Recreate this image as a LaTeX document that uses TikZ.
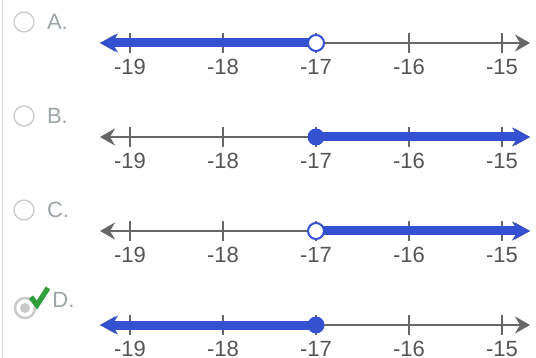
\documentclass[tikz,border=0pt]{standalone}
\usepackage{fontspec}
\setmainfont{Liberation Sans}
\usepackage{xcolor}
\usetikzlibrary{arrows.meta,positioning}
\definecolor{rayblue}{HTML}{3451D1}
\definecolor{axisgray}{HTML}{666666}
\definecolor{numgray}{HTML}{555555}
\definecolor{lettergray}{HTML}{9CA5A7}
\definecolor{radiogray}{HTML}{C9C9C9}
\definecolor{edgegray}{HTML}{D6D6D6}
\definecolor{checkgreen}{HTML}{2E9F3A}
\tikzset{
  axisline/.style={axisgray, line width=1pt, {Stealth[length=7.5pt,width=8.5pt,inset=2.5pt]}-{Stealth[length=7.5pt,width=8.5pt,inset=2.5pt]}},
  tickline/.style={axisgray, line width=0.8pt},
  ticklabel/.style={text=numgray, inner sep=0pt, font=\fontsize{11}{13}\selectfont},
  rayline/.style={rayblue, line width=4.5pt},
  rayleft/.style={{Stealth[length=9pt,width=9.5pt,inset=3pt]}-},
  rayright/.style={-{Stealth[length=9pt,width=9.5pt,inset=3pt]}},
  opendot/.style={circle, draw=rayblue, fill=white, line width=1pt, minimum size=8pt, inner sep=0pt},
  fulldot/.style={circle, fill=rayblue, minimum size=8.5pt, inner sep=0pt},
  radio/.style={circle, draw=radiogray, line width=0.6pt, minimum size=10pt, inner sep=0pt},
  letter/.style={text=lettergray, inner sep=0pt, font=\fontsize{11}{13}\selectfont},
  edgeline/.style={edgegray, line width=0.8pt}
}

\begin{document}
\begin{tikzpicture}[x=0.5pt, y=-0.5pt]
  \useasboundingbox (0,0) rectangle (536,358);
  \draw[edgeline] (2.5,0) -- (2.5,358);
  % number lines
  \foreach \row/\yy in {A/43,B/137,C/231,D/325}{
    \coordinate (\row-w) at (100,\yy);
    \coordinate (\row-e) at (530,\yy);
    \draw[axisline] (\row-w) -- (\row-e);
    \foreach \n [count=\i] in {-19,-18,-17,-16,-15}{
      \coordinate (\row-t\i) at ({130+93*(\i-1)},\yy);
      \draw[tickline] (\row-t\i) ++(0,-10) -- ++(0,20);
      \node[ticklabel, below=8pt of \row-t\i] (\row-l\i) {\n};
    }
  }
  % answer A: x < -17
  \draw[rayline, rayleft] (A-w) -- (A-t3);
  \node[opendot] (A-dot) at (A-t3) {};
  % answer B: x >= -17
  \draw[rayline, rayright] (B-t3) -- (B-e);
  \node[fulldot] (B-dot) at (B-t3) {};
  % answer C: x > -17
  \draw[rayline, rayright] (C-t3) -- (C-e);
  \node[opendot] (C-dot) at (C-t3) {};
  % answer D: x <= -17
  \draw[rayline, rayleft] (D-w) -- (D-t3);
  \node[fulldot] (D-dot) at (D-t3) {};
  % choices
  \foreach \row/\yy in {A/22,B/116,C/210}{
    \node[radio] (\row-radio) at (24,\yy) {};
    \node[letter, right=6pt of \row-radio] (\row-letter) {\row.};
  }
  \node[radio, line width=1.2pt] (D-radio) at (25,308) {};
  \node[circle, fill=radiogray, minimum size=5pt, inner sep=0pt] (D-pick) at (D-radio) {};
  \node[letter, anchor=west] (D-letter) at (52,300) {D.};
  \draw[checkgreen, line width=2.6pt] (31,297) -- (37,305) -- (48,288);
\end{tikzpicture}
\end{document}
